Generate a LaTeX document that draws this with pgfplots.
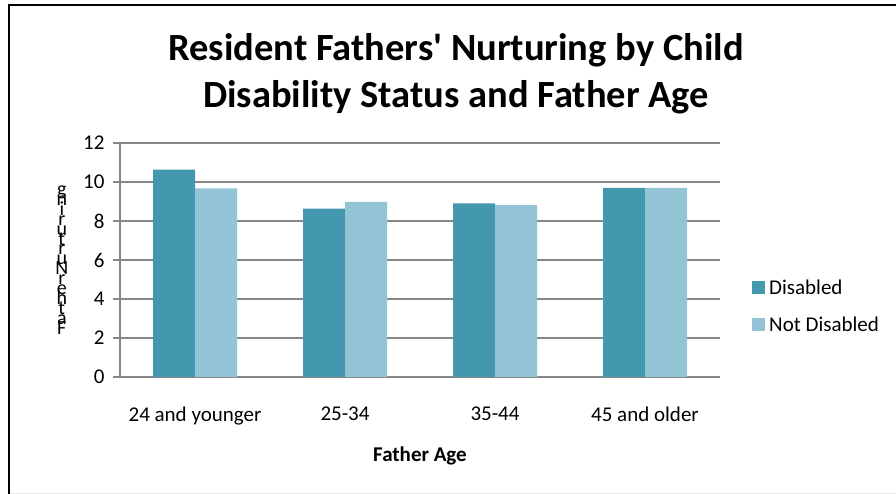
\documentclass[border=0pt]{standalone}
\usepackage{pgfplots}
\pgfplotsset{compat=1.18}
\usepackage{fontspec}
\setmainfont{Carlito}
\definecolor{dis}{HTML}{4398B0}
\definecolor{ndis}{HTML}{93C4D6}
\definecolor{gridgray}{HTML}{878787}
\pgfplotsset{sqlegend/.style={legend image code/.code={\fill[##1] (0pt,-6pt) rectangle (13pt,7pt);}}}
\newcommand{\stackedlabel}{\vbox{\hsize=24pt\parindent=0pt\fontsize{20}{9.9}\selectfont\lineskiplimit=-100pt\relax\centering g\\n\\i\\r\\u\\t\\r\\u\\N\\r\\e\\h\\t\\a\\F\par}}
\begin{document}
\begin{tikzpicture}
\path[use as bounding box] (0pt,0pt) rectangle (896pt,494pt);
\draw[line width=2.5pt, black] (9pt,0pt) -- (9pt,489pt) -- (896pt,489pt);
\draw[line width=0.6pt, black!8] (10pt,1pt) -- (896pt,1pt);
\node[font=\fontsize{38.5}{47}\selectfont\bfseries, align=center] at (456pt,420pt) {Resident Fathers\textquotesingle{} Nurturing by Child\\Disability Status and Father Age};
\begin{axis}[
 at={(120pt,117pt)}, anchor=south west,
 scale only axis, width=600pt, height=234pt,
 xmin=-0.5, xmax=3.5, ymin=0, ymax=12,
 xtick={0,1,2,3}, xticklabels={24 and younger,25-34,35-44,45 and older},
 ytick={0,2,...,12},
 ymajorgrids, grid style={gridgray, line width=2.4pt},
 axis x line*=bottom, axis y line*=left,
 axis line style={gridgray, line width=2.4pt},
 x tick style={draw=none},
 y tick style={gridgray, line width=2.4pt},
 tick align=outside, major tick length=7pt,
 ybar=0pt, bar width=42pt,
 tick label style={font=\fontsize{21}{24}\selectfont},
 xticklabel style={yshift=-19pt},
 yticklabel style={xshift=-5pt},
 /pgf/number format/assume math mode=true,
 xlabel={Father Age},
 xlabel style={font=\fontsize{21}{24}\selectfont\bfseries, at={(axis description cs:0.5,0)}, anchor=center, yshift=-79pt},
 ylabel={\stackedlabel},
 ylabel style={rotate=-90, at={(axis description cs:-0.097,0.5)}, anchor=center},
 legend cell align=left,
 legend style={draw=none, fill=none, at={(axis description cs:1,0.3)}, anchor=west, xshift=29pt, font=\fontsize{21}{24}\selectfont, row sep=17pt, nodes={inner xsep=4pt}},
]
\addplot[fill=dis, draw=none, sqlegend] coordinates {(0,10.63) (1,8.64) (2,8.90) (3,9.70)};
\addplot[fill=ndis, draw=none, sqlegend] coordinates {(0,9.67) (1,8.98) (2,8.81) (3,9.70)};
\legend{Disabled, Not Disabled}
\end{axis}
\end{tikzpicture}
\end{document}
